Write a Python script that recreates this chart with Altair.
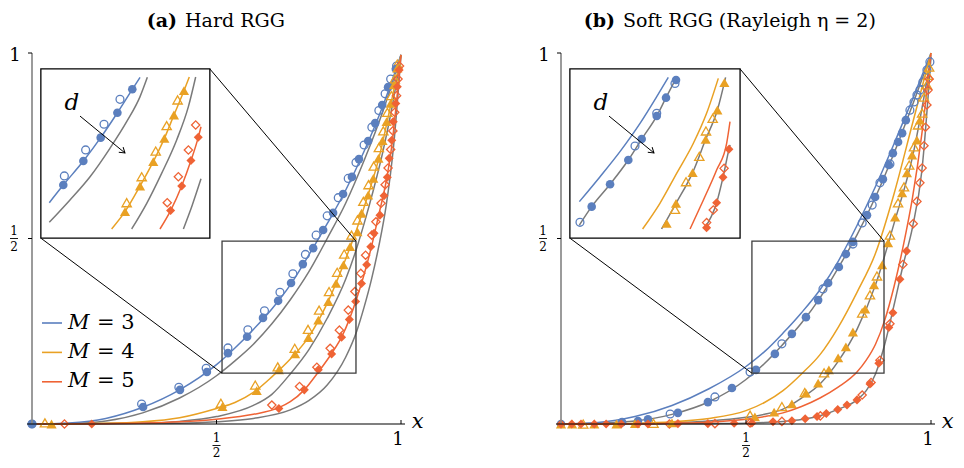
import altair as alt
import pandas as pd

FONT = "DejaVu Serif"
BLUE, ORANGE, RED, GRAY = "#5B7FBE", "#E9A124", "#EF6335", "#7A7A7A"
SHAPES = {"blue": "circle", "orange": "triangle-up", "red": "diamond"}
COLORS = {"blue": BLUE, "orange": ORANGE, "red": RED}
SIZE_FACTOR = {"blue": 1.0, "orange": 1.4, "red": 1.1}

# ---------------- Panel (a) Hard RGG ----------------
A_GRID = [0, 0.1, 0.2, 0.3, 0.4, 0.5, 0.55, 0.6, 0.65, 0.7, 0.75, 0.8, 0.85, 0.9, 0.95, 1.0]
A_BLUE_Y = [0, 0.003, 0.015, 0.045, 0.092, 0.16, 0.205, 0.255, 0.31, 0.375, 0.455, 0.54, 0.63, 0.735, 0.855, 0.995]
A_GBLUE_Y = [0, 0.001, 0.008, 0.03, 0.07, 0.13, 0.17, 0.215, 0.27, 0.335, 0.41, 0.50, 0.595, 0.71, 0.84, 0.995]
A_ORANGE_X = [0, 0.2, 0.3, 0.4, 0.5, 0.55, 0.6, 0.65, 0.7, 0.75, 0.8, 0.85, 0.88, 0.91, 0.94, 0.97, 1.0]
A_ORANGE_Y = [0, 0.002, 0.006, 0.017, 0.042, 0.058, 0.085, 0.127, 0.175, 0.235, 0.325, 0.445, 0.525, 0.615, 0.716, 0.85, 0.995]
A_GORANGE_X = [0, 0.3, 0.4, 0.5, 0.6, 0.65, 0.7, 0.75, 0.8, 0.85, 0.877, 0.9, 0.925, 0.95, 0.975, 1.0]
A_GORANGE_Y = [0, 0.002, 0.007, 0.02, 0.05, 0.08, 0.135, 0.2, 0.285, 0.39, 0.465, 0.54, 0.63, 0.73, 0.85, 0.995]
A_RED_X = [0, 0.2, 0.4, 0.5, 0.6, 0.669, 0.7, 0.738, 0.776, 0.812, 0.84, 0.86, 0.88, 0.9, 0.92, 0.94, 0.96, 0.975, 0.99, 1.0]
A_RED_Y = [0, 0.001, 0.006, 0.013, 0.026, 0.044, 0.06, 0.092, 0.14, 0.19, 0.236, 0.282, 0.338, 0.403, 0.478, 0.565, 0.655, 0.75, 0.89, 0.995]
A_GRED_X = [0, 0.4, 0.5, 0.6, 0.7, 0.75, 0.8, 0.85, 0.88, 0.9, 0.92, 0.94, 0.96, 0.98, 1.0]
A_GRED_Y = [0, 0.002, 0.006, 0.015, 0.038, 0.063, 0.105, 0.18, 0.25, 0.315, 0.39, 0.48, 0.59, 0.75, 0.995]

A_BLUE_FILL_X = [0, 0.301, 0.401, 0.474, 0.531, 0.583, 0.626, 0.667, 0.702, 0.734, 0.762, 0.789, 0.816, 0.843, 0.867, 0.886, 0.911, 0.930, 0.949, 0.965, 0.986]
A_BLUE_FILL_Y = [0, 0.046, 0.092, 0.140, 0.191, 0.235, 0.286, 0.332, 0.380, 0.431, 0.474, 0.523, 0.569, 0.620, 0.666, 0.714, 0.763, 0.811, 0.860, 0.908, 0.957]
A_BLUE_OPEN_X = [0, 0.297, 0.398, 0.472, 0.531, 0.585, 0.63, 0.672, 0.707, 0.741, 0.770, 0.800, 0.830, 0.857, 0.878, 0.90, 0.921, 0.94, 0.957, 0.972, 0.988]
A_BLUE_OPEN_Y = [0, 0.054, 0.099, 0.15, 0.205, 0.254, 0.305, 0.355, 0.405, 0.457, 0.509, 0.561, 0.610, 0.662, 0.705, 0.752, 0.8, 0.845, 0.89, 0.93, 0.965]
A_ORANGE_FILL_X = [0.053, 0.516, 0.609, 0.669, 0.713, 0.749, 0.776, 0.803, 0.824, 0.844, 0.862, 0.882, 0.893, 0.911, 0.925, 0.939, 0.950, 0.961, 0.972, 0.981, 0.990]
A_ORANGE_FILL_Y = [0.0, 0.047, 0.090, 0.146, 0.189, 0.233, 0.280, 0.330, 0.379, 0.429, 0.478, 0.518, 0.568, 0.617, 0.662, 0.716, 0.764, 0.815, 0.864, 0.914, 0.959]
A_ORANGE_OPEN_X = [0.035, 0.512, 0.605, 0.666, 0.712, 0.748, 0.778, 0.805, 0.827, 0.846, 0.866, 0.882, 0.898, 0.912, 0.926, 0.94, 0.952, 0.963, 0.974, 0.983, 0.99]
A_ORANGE_OPEN_Y = [0.003, 0.056, 0.105, 0.154, 0.204, 0.255, 0.307, 0.357, 0.409, 0.458, 0.509, 0.55, 0.6, 0.645, 0.695, 0.745, 0.79, 0.84, 0.885, 0.93, 0.97]
A_RED_FILL_X = [0.162, 0.669, 0.738, 0.776, 0.812, 0.839, 0.860, 0.877, 0.893, 0.907, 0.918, 0.927, 0.943, 0.954, 0.963, 0.968, 0.975, 0.979, 0.986, 0.990, 0.995]
A_RED_FILL_Y = [0.0, 0.042, 0.092, 0.146, 0.189, 0.234, 0.282, 0.330, 0.379, 0.429, 0.478, 0.514, 0.563, 0.615, 0.665, 0.716, 0.765, 0.815, 0.864, 0.909, 0.954]
A_RED_OPEN_X = [0.088, 0.650, 0.725, 0.772, 0.808, 0.833, 0.857, 0.875, 0.891, 0.904, 0.921, 0.932, 0.946, 0.957, 0.965, 0.972, 0.978, 0.983, 0.988, 0.992, 0.996]
A_RED_OPEN_Y = [0.0, 0.051, 0.101, 0.153, 0.204, 0.253, 0.307, 0.357, 0.406, 0.455, 0.509, 0.545, 0.595, 0.645, 0.69, 0.74, 0.79, 0.84, 0.885, 0.93, 0.965]

# inset (a), in the inset's own unit coordinates
IA_BLUE = ([0.002, 0.094, 0.226, 0.340, 0.450, 0.548, 0.599], [0.173, 0.289, 0.447, 0.601, 0.765, 0.919, 0.998])
IA_GBLUE = ([0.002, 0.138, 0.270, 0.401, 0.511, 0.599, 0.647], [0.044, 0.191, 0.344, 0.531, 0.706, 0.871, 0.998])
IA_ORANGE = ([0.412, 0.500, 0.599, 0.686, 0.759, 0.822, 0.888, 0.923], [0.0, 0.114, 0.283, 0.443, 0.596, 0.750, 0.910, 1.0])
IA_GORANGE = ([0.544, 0.643, 0.741, 0.840, 0.917, 0.965], [0.0, 0.169, 0.366, 0.586, 0.805, 1.0])
IA_RED = ([0.730, 0.800, 0.873, 0.934, 0.982, 1.0], [0.0, 0.121, 0.283, 0.450, 0.603, 0.673])
IA_GRED = ([0.884, 0.94, 1.0], [0.0, 0.15, 0.33])
IA_BLUE_FILL = ([0.094, 0.226, 0.340, 0.450, 0.548], [0.289, 0.447, 0.601, 0.765, 0.919])
IA_BLUE_OPEN = ([0.101, 0.241, 0.362, 0.467], [0.349, 0.520, 0.689, 0.853])
IA_ORANGE_FILL = ([0.500, 0.599, 0.686, 0.759, 0.822, 0.888], [0.114, 0.283, 0.443, 0.596, 0.750, 0.910])
IA_ORANGE_OPEN = ([0.511, 0.610, 0.702, 0.774, 0.846], [0.173, 0.344, 0.513, 0.680, 0.849])
IA_RED_FILL = ([0.800, 0.873, 0.934, 0.982], [0.121, 0.283, 0.450, 0.603])
IA_RED_OPEN = ([0.778, 0.851, 0.917, 0.965], [0.173, 0.344, 0.520, 0.684])

# ---------------- Panel (b) Soft RGG ----------------
B_GRID = [0, 0.1, 0.2, 0.3, 0.4, 0.5, 0.55, 0.6, 0.65, 0.7, 0.75, 0.8, 0.85, 0.9, 0.95, 1.0]
B_BLUE_Y = [0, 0.004, 0.02, 0.05, 0.095, 0.155, 0.195, 0.245, 0.30, 0.362, 0.44, 0.535, 0.64, 0.755, 0.875, 1.0]
B_GBLUE_Y = [0, 0.002, 0.008, 0.026, 0.06, 0.12, 0.163, 0.215, 0.272, 0.34, 0.422, 0.51, 0.612, 0.73, 0.86, 0.995]
B_ORANGE_Y = [0, 0.0005, 0.002, 0.006, 0.015, 0.036, 0.058, 0.09, 0.135, 0.187, 0.262, 0.355, 0.46, 0.62, 0.81, 1.0]
B_GORANGE_Y = [0, 0, 0.001, 0.003, 0.008, 0.018, 0.026, 0.04, 0.07, 0.108, 0.17, 0.255, 0.375, 0.54, 0.72, 0.99]
B_RED_X = [0, 0.2, 0.3, 0.4, 0.5, 0.55, 0.6, 0.65, 0.7, 0.75, 0.8, 0.825, 0.85, 0.875, 0.9, 0.925, 0.95, 0.975, 1.0]
B_RED_Y = [0, 0.0005, 0.002, 0.005, 0.013, 0.02, 0.03, 0.047, 0.07, 0.1, 0.14, 0.172, 0.215, 0.28, 0.37, 0.48, 0.61, 0.78, 1.0]
B_GRED_Y = [0, 0, 0.0005, 0.001, 0.002, 0.004, 0.007, 0.012, 0.022, 0.04, 0.065, 0.09, 0.135, 0.215, 0.32, 0.43, 0.53, 0.68, 0.99]

B_BLUE_FILL_X = [0, 0.165, 0.208, 0.235, 0.316, 0.397, 0.462, 0.527, 0.578, 0.624, 0.662, 0.695, 0.722, 0.751, 0.770, 0.789, 0.827, 0.849, 0.870, 0.886, 0.897, 0.911, 0.922, 0.932]
B_BLUE_FILL_Y = [0, 0.005, 0.008, 0.013, 0.030, 0.059, 0.097, 0.146, 0.189, 0.243, 0.288, 0.334, 0.380, 0.423, 0.458, 0.491, 0.563, 0.612, 0.660, 0.698, 0.730, 0.760, 0.784, 0.819]
B_BLUE_OPEN_X = [0.295, 0.416, 0.511, 0.597, 0.708, 0.789, 0.814, 0.841, 0.862, 0.889, 0.943, 0.954, 0.962, 0.970, 0.978, 0.989, 0.997]
B_BLUE_OPEN_Y = [0.027, 0.073, 0.140, 0.216, 0.364, 0.485, 0.542, 0.590, 0.650, 0.701, 0.846, 0.868, 0.887, 0.900, 0.922, 0.954, 0.976]
B_ORANGE_FILL_X = [0, 0.03, 0.09, 0.15, 0.2, 0.3, 0.524, 0.576, 0.624, 0.662, 0.695, 0.724, 0.749, 0.770, 0.789, 0.822, 0.846, 0.868, 0.884, 0.903, 0.922, 0.935, 0.949, 0.962, 0.970]
B_ORANGE_FILL_Y = [0, 0, 0, 0, 0.001, 0.003, 0.019, 0.032, 0.054, 0.083, 0.110, 0.146, 0.178, 0.208, 0.248, 0.310, 0.375, 0.429, 0.488, 0.558, 0.623, 0.677, 0.725, 0.765, 0.819]
B_ORANGE_OPEN_X = [0.06, 0.25, 0.511, 0.597, 0.659, 0.711, 0.814, 0.835, 0.854, 0.889, 0.911, 0.927, 0.941, 0.954, 0.965, 0.976, 0.981, 0.989, 0.992, 0.995]
B_ORANGE_OPEN_Y = [0, 0.002, 0.024, 0.047, 0.085, 0.138, 0.299, 0.348, 0.399, 0.509, 0.596, 0.639, 0.698, 0.747, 0.806, 0.838, 0.881, 0.914, 0.94, 0.962]
B_RED_FILL_X = [0, 0.029, 0.054, 0.09, 0.122, 0.163, 0.208, 0.235, 0.316, 0.397, 0.468, 0.516, 0.573, 0.624, 0.66, 0.692, 0.717, 0.748, 0.773, 0.8, 0.835, 0.859, 0.886, 0.897, 0.916, 0.934]
B_RED_FILL_Y = [0, 0, 0, 0, 0, 0, 0, 0, 0.001, 0.001, 0.002, 0.003, 0.006, 0.009, 0.014, 0.02, 0.028, 0.039, 0.051, 0.065, 0.108, 0.164, 0.26, 0.30, 0.39, 0.466]
B_RED_OPEN_X = [0.293, 0.416, 0.511, 0.597, 0.701, 0.814, 0.838, 0.862, 0.889, 0.924, 0.952, 0.962, 0.970, 0.976, 0.981, 0.985, 0.989, 0.992, 0.995]
B_RED_OPEN_Y = [0, 0.001, 0.003, 0.007, 0.022, 0.078, 0.112, 0.172, 0.27, 0.43, 0.54, 0.6, 0.65, 0.69, 0.75, 0.8, 0.86, 0.9, 0.93]

IB_BLUE = ([0.009, 0.145, 0.276, 0.408, 0.518, 0.594], [0.180, 0.344, 0.509, 0.695, 0.871, 0.998])
IB_GBLUE = ([0.009, 0.090, 0.211, 0.331, 0.419, 0.518, 0.579, 0.649], [0.026, 0.147, 0.294, 0.454, 0.592, 0.743, 0.864, 0.998])
IB_ORANGE = ([0.425, 0.539, 0.649, 0.759, 0.846, 0.923], [0.0, 0.169, 0.366, 0.564, 0.761, 0.991])
IB_GORANGE = ([0.550, 0.645, 0.754, 0.840, 0.917, 0.971], [0.0, 0.169, 0.371, 0.590, 0.783, 0.998])
IB_RED = ([0.737, 0.825, 0.912, 0.978, 1.0], [0.0, 0.191, 0.388, 0.564, 0.706])
IB_GRED = ([0.829, 0.912, 0.954, 0.993, 1.0], [0.0, 0.173, 0.340, 0.524, 0.553])
IB_BLUE_FILL = ([0.090, 0.211, 0.331, 0.419, 0.518, 0.579, 0.645], [0.147, 0.294, 0.454, 0.592, 0.743, 0.864, 0.980])
IB_BLUE_OPEN = ([0.013, 0.375, 0.518, 0.638], [0.044, 0.546, 0.761, 0.958])
IB_ORANGE_FILL = ([0.583, 0.645, 0.754, 0.840, 0.917, 0.963], [0.037, 0.169, 0.371, 0.590, 0.783, 0.963])
IB_ORANGE_OPEN = ([0.638, 0.711, 0.798, 0.842, 0.886], [0.129, 0.311, 0.478, 0.645, 0.728])
IB_RED_FILL = ([0.846, 0.912, 0.954, 0.993], [0.009, 0.173, 0.340, 0.524])
IB_RED_OPEN = ([0.846, 0.890, 0.961], [0.042, 0.125, 0.399])

# zoom rectangle and inset frame (panel data coordinates)
ZOOM_A = (0.515, 0.878, 0.137, 0.493)
INSET_A = (0.024, 0.482, 0.501, 0.957)
ZOOM_B = (0.516, 0.873, 0.137, 0.493)
INSET_B = (0.024, 0.484, 0.501, 0.957)
ARROW = ((0.204, 0.743), (0.500, 0.500))
D_POS = (0.15, 0.827)

TICKS = [0.5, 1.0]
LEGEND = [("3", "blue"), ("4", "orange"), ("5", "red")]

# ---------------- layout (pixels of the chart area) ----------------
PANEL_RANGE = {"a": ([24, 393], [416, 45]), "b": ([553, 923], [416, 45])}
INSET_RANGE = {"a": ([41, 193], [221, 69]), "b": ([570, 722], [221, 69])}


def sc(r):
    return alt.Scale(domain=[0, 1], range=r, nice=False, zero=False)


def XY(rng, xf="x", yf="y"):
    xr, yr = rng
    return {"x": alt.X(f"{xf}:Q", scale=sc(xr), axis=None),
            "y": alt.Y(f"{yf}:Q", scale=sc(yr), axis=None)}


def curve_df(items):
    rows = []
    for name, (xs, ys), col in items:
        for i, (a, b) in enumerate(zip(xs, ys)):
            rows.append({"x": a, "y": b, "s": name, "c": col, "o": i})
    return pd.DataFrame(rows)


def marker_df(items, base):
    rows = []
    for (xs, ys), key in items:
        for a, b in zip(xs, ys):
            rows.append({"x": a, "y": b, "c": COLORS[key], "m": SHAPES[key],
                         "z": base * SIZE_FACTOR[key]})
    return pd.DataFrame(rows)


def data_layers(rng, curves, opens, fills):
    xy = XY(rng)
    lines = alt.Chart(curve_df(curves)).mark_line(interpolate="monotone", strokeWidth=1.5).encode(
        **xy, detail="s:N", order="o:Q", color=alt.Color("c:N", scale=None))
    hol = alt.Chart(marker_df(opens, 62)).mark_point(filled=False, strokeWidth=1.3, opacity=1).encode(
        **xy, shape=alt.Shape("m:N", scale=None), color=alt.Color("c:N", scale=None),
        size=alt.Size("z:Q", scale=None))
    fil = alt.Chart(marker_df(fills, 74)).mark_point(filled=True, opacity=1, strokeWidth=0).encode(
        **xy, shape=alt.Shape("m:N", scale=None), color=alt.Color("c:N", scale=None),
        size=alt.Size("z:Q", scale=None))
    return [lines, hol, fil]


def seg_df(segs):
    return pd.DataFrame([{"x0": a, "y0": b, "x1": c, "y1": d} for a, b, c, d in segs])


def rules(rng, segs, color="black", width=1.0):
    return alt.Chart(seg_df(segs)).mark_rule(color=color, strokeWidth=width).encode(
        **XY(rng, "x0", "y0"), x2="x1:Q", y2="y1:Q")


def texts(rng, rows, **mk):
    df = pd.DataFrame([{"x": a, "y": b, "t": t} for a, b, t in rows])
    return alt.Chart(df).mark_text(font=FONT, **mk).encode(**XY(rng), text="t:N")


def label(t, x, y, **mk):
    return alt.Chart(pd.DataFrame({"t": [t]})).mark_text(font=FONT, **mk).encode(
        x=alt.value(x), y=alt.value(y), text="t:N")


def frame_layers(p, zoom, inset):
    rng = PANEL_RANGE[p]
    zx0, zx1, zy0, zy1 = zoom
    ix0, ix1, iy0, iy1 = inset
    box_df = pd.DataFrame([{"x0": zx0, "x1": zx1, "y0": zy0, "y1": zy1}])
    inset_df = pd.DataFrame([{"x0": ix0, "x1": ix1, "y0": iy0, "y1": iy1}])
    zbox = alt.Chart(box_df).mark_rect(fillOpacity=0, stroke="#3c3c3c", strokeWidth=1.3).encode(
        **XY(rng, "x0", "y0"), x2="x1:Q", y2="y1:Q")
    conn = rules(rng, [(ix1, iy1, zx1, zy1), (ix0, iy0, zx0, zy0)], "black", 1.0)
    ibox = alt.Chart(inset_df).mark_rect(fill="white", stroke="black", strokeWidth=1.3).encode(
        **XY(rng, "x0", "y0"), x2="x1:Q", y2="y1:Q")
    return [zbox, conn, ibox]


def annot_layers(p):
    rng = INSET_RANGE[p]
    (ax0, ay0), (ax1, ay1) = ARROW
    line = rules(rng, [(ax0, ay0, ax1, ay1)], "black", 1.0)
    head = alt.Chart(pd.DataFrame({"x": [ax1], "y": [ay1]})).mark_point(
        shape="M-1,-0.65L0,0L-1,0.65", filled=False, size=110, angle=39.4, strokeWidth=1.0,
        color="black", opacity=1).encode(**XY(rng))
    d = texts(rng, [(D_POS[0], D_POS[1], "d")], fontSize=23, fontStyle="italic", baseline="middle", align="center")
    return [line, head, d]


def axis_layers(p):
    rng = PANEL_RANGE[p]
    ux = 1 / (rng[0][1] - rng[0][0])
    uy = 1 / (rng[1][0] - rng[1][1])
    out = []
    out.append(rules(rng, [(0, 0, 0, 1)], "#8a8a8a", 1.7))
    out.append(rules(rng, [(-5 * ux, 0, 1 + 4 * ux, 0)], "black", 1.1))
    out.append(rules(rng, [(-4 * ux, t, 0, t) for t in TICKS], "black", 1.0))
    out.append(rules(rng, [(t, 0, t, 4 * uy) for t in TICKS], "black", 1.0))
    # "1" labels
    out.append(texts(rng, [(0, 1, "1")], fontSize=18, align="center", baseline="middle", dx=-17, dy=3))
    out.append(texts(rng, [(1, 0, "1")], fontSize=18, align="center", baseline="middle", dx=-3, dy=16))
    # fraction 1/2 on y axis
    out.append(texts(rng, [(0, 0.5, "1")], fontSize=12, align="center", baseline="middle", dx=-18, dy=-8))
    out.append(texts(rng, [(0, 0.5, "2")], fontSize=12, align="center", baseline="middle", dx=-18, dy=8))
    out.append(rules(rng, [(-22 * ux, 0.5, -14 * ux, 0.5)], "black", 0.9))
    # fraction 1/2 on x axis
    out.append(texts(rng, [(0.5, 0, "1")], fontSize=12, align="center", baseline="middle", dy=14))
    out.append(texts(rng, [(0.5, 0, "2")], fontSize=12, align="center", baseline="middle", dy=29))
    out.append(rules(rng, [(0.5 - 4 * ux, -21.5 * uy, 0.5 + 4 * ux, -21.5 * uy)], "black", 0.9))
    # axis name
    out.append(texts(rng, [(1.045, 0, "x")], fontSize=21, fontStyle="italic", align="center", baseline="middle", dy=-2))
    return out


L = []

# panel (a)
L += data_layers(PANEL_RANGE["a"],
                 [("gb", (A_GRID, A_GBLUE_Y), GRAY), ("go", (A_GORANGE_X, A_GORANGE_Y), GRAY),
                  ("gr", (A_GRED_X, A_GRED_Y), GRAY), ("b", (A_GRID, A_BLUE_Y), BLUE),
                  ("o", (A_ORANGE_X, A_ORANGE_Y), ORANGE), ("r", (A_RED_X, A_RED_Y), RED)],
                 [((A_BLUE_OPEN_X, A_BLUE_OPEN_Y), "blue"), ((A_ORANGE_OPEN_X, A_ORANGE_OPEN_Y), "orange"),
                  ((A_RED_OPEN_X, A_RED_OPEN_Y), "red")],
                 [((A_BLUE_FILL_X, A_BLUE_FILL_Y), "blue"), ((A_ORANGE_FILL_X, A_ORANGE_FILL_Y), "orange"),
                  ((A_RED_FILL_X, A_RED_FILL_Y), "red")])
L += frame_layers("a", ZOOM_A, INSET_A)
L += data_layers(INSET_RANGE["a"],
                 [("gb", IA_GBLUE, GRAY), ("go", IA_GORANGE, GRAY), ("gr", IA_GRED, GRAY),
                  ("b", IA_BLUE, BLUE), ("o", IA_ORANGE, ORANGE), ("r", IA_RED, RED)],
                 [(IA_BLUE_OPEN, "blue"), (IA_ORANGE_OPEN, "orange"), (IA_RED_OPEN, "red")],
                 [(IA_BLUE_FILL, "blue"), (IA_ORANGE_FILL, "orange"), (IA_RED_FILL, "red")])
L += annot_layers("a")
L += axis_layers("a")

# panel (b)
L += data_layers(PANEL_RANGE["b"],
                 [("gb", (B_GRID, B_GBLUE_Y), GRAY), ("go", (B_GRID, B_GORANGE_Y), GRAY),
                  ("gr", (B_RED_X, B_GRED_Y), GRAY), ("b", (B_GRID, B_BLUE_Y), BLUE),
                  ("o", (B_GRID, B_ORANGE_Y), ORANGE), ("r", (B_RED_X, B_RED_Y), RED)],
                 [((B_BLUE_OPEN_X, B_BLUE_OPEN_Y), "blue"), ((B_ORANGE_OPEN_X, B_ORANGE_OPEN_Y), "orange"),
                  ((B_RED_OPEN_X, B_RED_OPEN_Y), "red")],
                 [((B_BLUE_FILL_X, B_BLUE_FILL_Y), "blue"), ((B_ORANGE_FILL_X, B_ORANGE_FILL_Y), "orange"),
                  ((B_RED_FILL_X, B_RED_FILL_Y), "red")])
L += frame_layers("b", ZOOM_B, INSET_B)
L += data_layers(INSET_RANGE["b"],
                 [("b", IB_BLUE, BLUE), ("o", IB_ORANGE, ORANGE), ("r", IB_RED, RED),
                  ("gb", IB_GBLUE, GRAY), ("go", IB_GORANGE, GRAY), ("gr", IB_GRED, GRAY)],
                 [(IB_BLUE_OPEN, "blue"), (IB_ORANGE_OPEN, "orange"), (IB_RED_OPEN, "red")],
                 [(IB_BLUE_FILL, "blue"), (IB_ORANGE_FILL, "orange"), (IB_RED_FILL, "red")])
L += annot_layers("b")
L += axis_layers("b")

# legend (panel a)
for i, (m, key) in enumerate(LEGEND):
    ly = 315 + 29.4 * i
    L.append(alt.Chart(pd.DataFrame({"c": [COLORS[key]]})).mark_rule(strokeWidth=1.6).encode(
        x=alt.value(34), x2=alt.value(54), y=alt.value(ly), y2=alt.value(ly), color=alt.Color("c:N", scale=None)))
    L.append(label("M", 60, ly + 5.5, fontSize=21, fontStyle="italic", align="left", baseline="alphabetic"))
    L.append(label("= " + m, 89, ly + 5.5, fontSize=21, align="left", baseline="alphabetic"))

# titles
L.append(label("(a)", 169, 19, fontSize=19, fontWeight="bold", align="right", baseline="alphabetic"))
L.append(label("Hard RGG", 177, 19, fontSize=19, align="left", baseline="alphabetic"))
L.append(label("(b)", 607, 19, fontSize=19, fontWeight="bold", align="right", baseline="alphabetic"))
L.append(label("Soft RGG (Rayleigh η = 2)", 615, 19, fontSize=19, align="left", baseline="alphabetic"))

chart = alt.layer(*L).resolve_scale(x="independent", y="independent").properties(
    width=948, height=452, autosize=alt.AutoSizeParams(type="none"), padding=0
).configure_view(strokeWidth=0)

chart.save("out.html", embed_options={"renderer": "svg", "actions": False})
